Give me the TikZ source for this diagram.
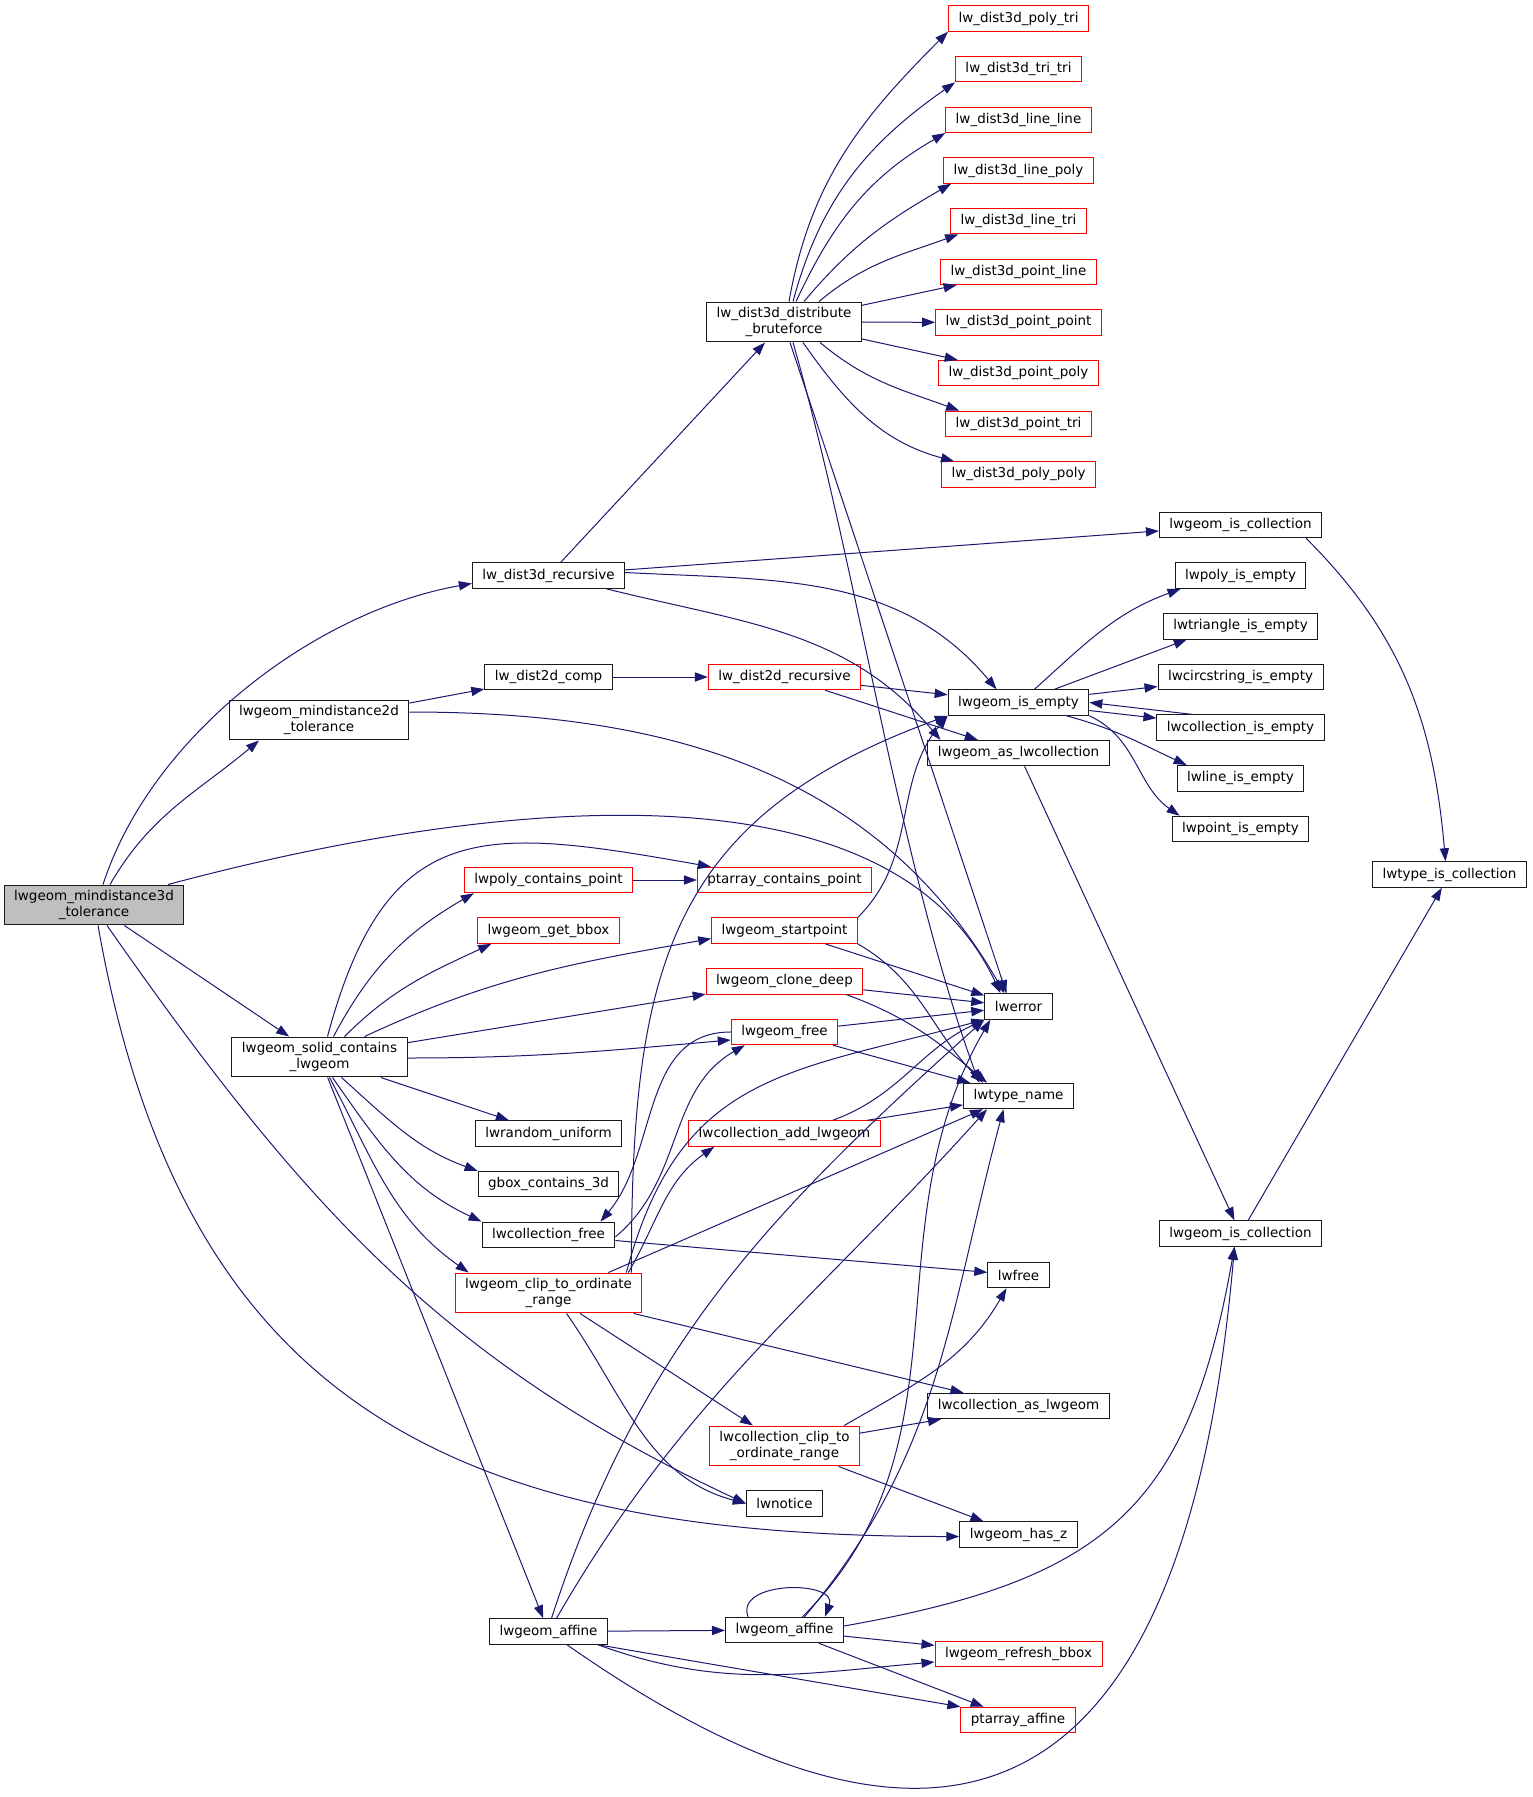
\documentclass[tikz,border=0pt]{standalone}
\usepackage{fontspec}
\setmainfont{DejaVu Sans}
\usepackage{tikz}
\usetikzlibrary{arrows.meta,positioning}

\definecolor{edgeblue}{HTML}{191970}
\definecolor{rootgray}{HTML}{BFBFBF}
\definecolor{boxgray}{HTML}{1A1A1A}

\begin{document}
\begin{tikzpicture}[>={Triangle[length=6.5pt,width=4.6pt]},x=0.5pt,y=0.5pt,
    line width=0.5pt,node distance=25.33pt,
    fn node/.style={rectangle,draw=boxgray,fill=white,align=center,
    font={\fontsize{6.75}{7.65}\selectfont},inner xsep=5pt,inner ysep=2.8pt,
    minimum height=12.75pt},
    red node/.style={fn node,draw=red},
    root node/.style={fn node,fill=rootgray},
    every edge/.style={draw,->,edgeblue}]

    \useasboundingbox (0,0) rectangle (1532,-1797);

    \node[root node] (MinDist3d) at (94,-905) {lwgeom\_mindistance3d\\\_tolerance};

    \node[fn node] (Dist3dRecursive) at (548.5,-575.5) {lw\_dist3d\_recursive};
    \node[fn node] (Bruteforce) at (784,-322) {lw\_dist3d\_distribute\\\_bruteforce};

    \node[red node] (PolyTri) at (1018.5,-18.5) {lw\_dist3d\_poly\_tri};
    \node[red node] (TriTri) [below of=PolyTri] {lw\_dist3d\_tri\_tri};
    \node[red node] (LineLine) [below of=TriTri] {lw\_dist3d\_line\_line};
    \node[red node] (LinePoly) [below of=LineLine] {lw\_dist3d\_line\_poly};
    \node[red node] (LineTri) [below of=LinePoly] {lw\_dist3d\_line\_tri};
    \node[red node] (PointLine) [below of=LineTri] {lw\_dist3d\_point\_line};
    \node[red node] (PointPoint) [below of=PointLine] {lw\_dist3d\_point\_point};
    \node[red node] (PointPoly) [below of=PointPoint] {lw\_dist3d\_point\_poly};
    \node[red node] (PointTri) [below of=PointPoly] {lw\_dist3d\_point\_tri};
    \node[red node] (PolyPoly) [below of=PointTri] {lw\_dist3d\_poly\_poly};

    \node[fn node] (IsCollectionTop) at (1240.5,-525) {lwgeom\_is\_collection};
    \node[fn node] (PolyIsEmpty) [below of=IsCollectionTop] {lwpoly\_is\_empty};
    \node[fn node] (TriangleIsEmpty) [below of=PolyIsEmpty] {lwtriangle\_is\_empty};
    \node[fn node] (CircstringIsEmpty) [below of=TriangleIsEmpty] {lwcircstring\_is\_empty};
    \node[fn node] (CollectionIsEmpty) [below of=CircstringIsEmpty] {lwcollection\_is\_empty};
    \node[fn node] (LineIsEmpty) [below of=CollectionIsEmpty] {lwline\_is\_empty};
    \node[fn node] (PointIsEmpty) [below of=LineIsEmpty] {lwpoint\_is\_empty};

    \node[fn node] (TypeIsCollection) at (1449.5,-874.5) {lwtype\_is\_collection};

    \node[fn node] (MinDist2d) at (319,-720) {lwgeom\_mindistance2d\\\_tolerance};
    \node[fn node] (Dist2dComp) at (548.5,-677) {lw\_dist2d\_comp};
    \node[red node] (Dist2dRecursive) at (784.5,-677) {lw\_dist2d\_recursive};

    \node[fn node] (IsEmpty) at (1018.5,-702.5) {lwgeom\_is\_empty};
    \node[fn node] (AsCollection) [below of=IsEmpty] {lwgeom\_as\_lwcollection};

    \node[red node] (PolyContainsPoint) at (548.5,-880) {lwpoly\_contains\_point};
    \node[red node] (GetBbox) [below of=PolyContainsPoint] {lwgeom\_get\_bbox};

    \node[red node] (PtarrayContainsPoint) at (784.5,-880) {ptarray\_contains\_point};
    \node[red node] (StartPoint) [below of=PtarrayContainsPoint] {lwgeom\_startpoint};
    \node[red node] (CloneDeep) [below of=StartPoint] {lwgeom\_clone\_deep};
    \node[red node] (GeomFree) [below of=CloneDeep] {lwgeom\_free};

    \node[fn node] (Error) at (1018.5,-1006.5) {lwerror};
    \node[fn node] (SolidContains) at (319.5,-1057) {lwgeom\_solid\_contains\\\_lwgeom};
    \node[fn node] (TypeName) at (1018.5,-1096) {lwtype\_name};
    \node[red node] (CollectionAdd) at (784.5,-1133.5) {lwcollection\_add\_lwgeom};

    \node[fn node] (RandomUniform) at (548.5,-1133.5) {lwrandom\_uniform};
    \node[fn node] (GboxContains) [below of=RandomUniform] {gbox\_contains\_3d};
    \node[fn node] (CollectionFree) [below of=GboxContains] {lwcollection\_free};

    \node[fn node] (IsCollection) at (1240.5,-1233.5) {lwgeom\_is\_collection};
    \node[fn node] (Free) at (1018.5,-1275) {lwfree};
    \node[red node] (ClipToOrdinate) at (548.5,-1293) {lwgeom\_clip\_to\_ordinate\\\_range};
    \node[fn node] (CollectionAsGeom) at (1018.5,-1406) {lwcollection\_as\_lwgeom};
    \node[red node] (CollectionClip) at (784.5,-1446) {lwcollection\_clip\_to\\\_ordinate\_range};
    \node[fn node] (Notice) at (784.5,-1503.5) {lwnotice};
    \node[fn node] (HasZ) at (1018.5,-1534.5) {lwgeom\_has\_z};

    \node[fn node] (AffineA) at (548.5,-1631.5) {lwgeom\_affine};
    \node[fn node] (AffineB) at (784.5,-1630) {lwgeom\_affine};
    \node[red node] (RefreshBbox) at (1018.5,-1654) {lwgeom\_refresh\_bbox};
    \node[red node] (PtarrayAffine) at (1018,-1720) {ptarray\_affine};

    \path
        ([xshift=4.5pt]MinDist3d.north) edge [out=72, in=190, looseness=0.85] ([yshift=-4pt]Dist3dRecursive.west)
        ([xshift=8pt]MinDist3d.north) edge [out=60, in=220] ([xshift=-30pt]MinDist2d.south)
        ([xshift=37pt]MinDist3d.north) edge [out=15, in=115, looseness=0.85] ([xshift=-9pt]Error.north)
        (MinDist3d) edge (SolidContains)
        ([xshift=6.5pt]MinDist3d.south) edge [out=-55, in=155] (Notice.west)
        ([xshift=2pt]MinDist3d.south) edge [out=-80, in=180, looseness=1.2] ([yshift=-1pt]HasZ.west);

    \path (Dist3dRecursive) edge (Bruteforce) (Dist3dRecursive) edge (IsCollectionTop)
        ([yshift=1.5pt]Dist3dRecursive.east) edge [out=-3, in=130] ([xshift=-11pt]IsEmpty.north)
        ([xshift=-9.5pt]Dist3dRecursive.south east) edge [out=-14, in=130] ([xshift=-39pt]AsCollection.north);

    \path
        ([xshift=2.5pt]Bruteforce.north) edge [out=80, in=225] (PolyTri.south west)
        ([xshift=4.5pt]Bruteforce.north) edge [out=75, in=215] (TriTri.south west)
        ([xshift=6pt]Bruteforce.north) edge [out=65, in=210] (LineLine.south west)
        ([xshift=10pt]Bruteforce.north) edge [out=50, in=210] ([xshift=4pt]LinePoly.south west)
        ([xshift=17.5pt]Bruteforce.north) edge [out=40, in=200] ([xshift=4pt]LineTri.south west)
        (Bruteforce) edge (PointLine) (Bruteforce) edge (PointPoint) (Bruteforce) edge (PointPoly)
        ([xshift=18pt]Bruteforce.south) edge [out=-40, in=160] ([xshift=7pt]PointTri.north west)
        ([xshift=9.5pt]Bruteforce.south) edge [out=-55, in=165] ([xshift=6.5pt]PolyPoly.north west);

    \path
        ([xshift=3pt]Bruteforce.south) edge ([xshift=-6pt]Error.north)
        ([xshift=4.5pt]Bruteforce.south) edge [out=-74, in=110, looseness=0.8] ([xshift=8pt]TypeName.north west);

    \path (MinDist2d) edge (Dist2dComp) (Dist2dComp) edge (Dist2dRecursive)
        ([yshift=4pt]MinDist2d.east) edge [out=0, in=120] ([xshift=-7pt]Error.north);

    \path (Dist2dRecursive) edge (IsEmpty) (Dist2dRecursive) edge (AsCollection);

    \path
        ([xshift=8pt]IsEmpty.north) edge [out=42, in=200] ([xshift=3pt]PolyIsEmpty.south west)
        ([xshift=18pt]IsEmpty.north) edge ([xshift=12pt]TriangleIsEmpty.south west)
        (IsEmpty) edge (CircstringIsEmpty) (IsEmpty) edge (CollectionIsEmpty)
        ([xshift=18pt]CollectionIsEmpty.north west) edge (IsEmpty.east)
        ([xshift=-11.5pt]IsEmpty.south east) edge [out=-15, in=155] ([xshift=5pt]LineIsEmpty.north west)
        (IsEmpty.south east) edge [out=-25, in=145] ([xshift=4pt]PointIsEmpty.north west);

    \path
        ([xshift=-8pt]IsCollectionTop.south east) edge [out=-45, in=95] ([xshift=-2pt]TypeIsCollection.north)
        (IsCollection) edge (TypeIsCollection)
        (AsCollection) edge (IsCollection);

    \path (PolyContainsPoint) edge (PtarrayContainsPoint);

    \path
        ([xshift=4pt]SolidContains.north) edge [out=75, in=170, looseness=1.4] ([xshift=7pt]PtarrayContainsPoint.north west)
        ([xshift=7pt]SolidContains.north) edge [out=62, in=210] ([xshift=5pt]PolyContainsPoint.south west)
        ([xshift=12.5pt]SolidContains.north) edge [out=45, in=205] ([xshift=7pt]GetBbox.south west)
        ([xshift=22.5pt]SolidContains.north) edge [out=25, in=190] ([yshift=-4pt]StartPoint.west)
        (SolidContains) edge (CloneDeep)
        ([yshift=-0.5pt]SolidContains.east) edge [out=0, in=185] ([yshift=-4pt]GeomFree.west)
        (SolidContains) edge (RandomUniform)
        ([xshift=11pt]SolidContains.south) edge [out=-42, in=160] (GboxContains.north west)
        ([xshift=6.5pt]SolidContains.south) edge [out=-55, in=155] (CollectionFree.north west)
        ([xshift=5pt]SolidContains.south) edge [out=-62, in=145] ([xshift=7pt]ClipToOrdinate.north west)
        (SolidContains) edge (AffineA);

    \path
        (StartPoint.north east) edge [out=45, in=230] (IsEmpty.south west)
        (StartPoint) edge (Error)
        (StartPoint.south east) edge [out=-30, in=135] ([xshift=10pt]TypeName.north west)
        (CloneDeep) edge (Error)
        ([xshift=-8.5pt]CloneDeep.south east) edge [out=-20, in=140] ([xshift=12pt]TypeName.north west)
        (GeomFree) edge (Error) (GeomFree) edge (TypeName)
        (GeomFree.west) edge [out=180, in=50] ([xshift=-7.5pt]CollectionFree.north east)
        ([yshift=-1pt]CollectionFree.east) edge [out=40, in=210] ([xshift=7pt]GeomFree.south west)
        (CollectionFree) edge (Free);

    \path
        ([xshift=-5.5pt]ClipToOrdinate.north east) edge [out=90, in=200, looseness=1.2] (IsEmpty.south west)
        ([xshift=-8pt]ClipToOrdinate.north east) edge [out=75, in=195, looseness=1.2] (Error.south west)
        ([xshift=-7pt]ClipToOrdinate.north east) edge [out=60, in=215] ([xshift=13pt]CollectionAdd.south west)
        ([xshift=-17pt]ClipToOrdinate.north east) edge ([xshift=10pt]TypeName.south west)
        (ClipToOrdinate) edge (CollectionAsGeom) (ClipToOrdinate) edge (CollectionClip)
        ([xshift=9pt]ClipToOrdinate.south) edge [out=-55, in=165] (Notice.west);

    \path
        ([xshift=-8pt]CollectionClip.north east) edge [out=30, in=240] ([xshift=-6pt]Free.south)
        (CollectionClip) edge (CollectionAsGeom) (CollectionClip) edge (HasZ)
        ([xshift=-24pt]CollectionAdd.north east) edge [out=20, in=205] (Error.south west)
        (CollectionAdd) edge (TypeName);

    \path (AffineA) edge (AffineB)
        ([xshift=-5pt]AffineA.south east) edge [out=-20, in=185] ([yshift=-4pt]RefreshBbox.west)
        ([xshift=-5pt]AffineA.south east) edge (PtarrayAffine.north west)
        ([xshift=9.25pt]AffineA.south) edge [out=-35, in=-95, looseness=1.7] ([xshift=-3pt]IsCollection.south)
        ([xshift=1.5pt]AffineA.north) edge [out=72, in=222] (Error.south west)
        ([xshift=4pt]AffineA.north) edge [out=60, in=228] ([xshift=12pt]TypeName.south west);

    \path
        ([xshift=11.5pt]AffineB.north west) edge [out=110, in=70, looseness=1.3] ([xshift=-9.5pt]AffineB.north east)
        ([xshift=9pt]AffineB.north) edge [out=45, in=240] ([xshift=3pt]Error.south west)
        ([xshift=10pt]AffineB.north) edge [out=50, in=255] ([xshift=-7.5pt]TypeName.south)
        ([yshift=2pt]AffineB.east) edge [out=10, in=260, looseness=1.25] ([xshift=-3pt]IsCollection.south)
        (AffineB) edge (RefreshBbox) (AffineB) edge (PtarrayAffine);
\end{tikzpicture}
\end{document}
